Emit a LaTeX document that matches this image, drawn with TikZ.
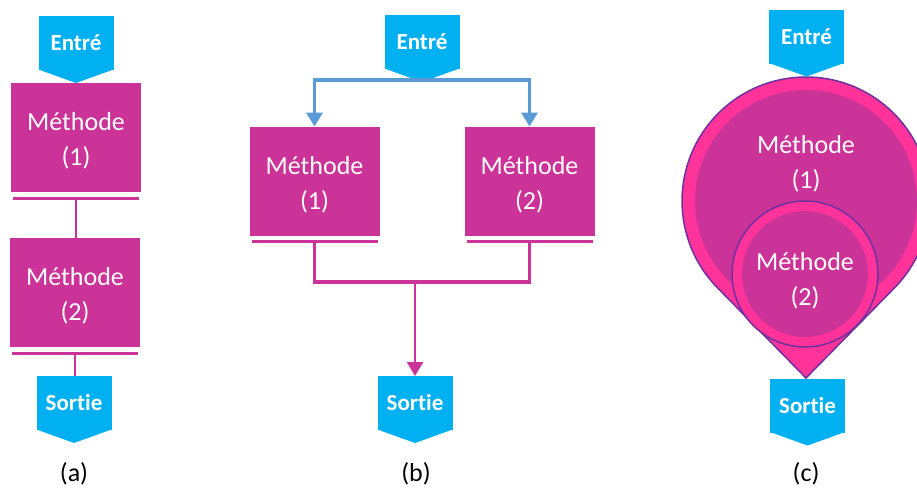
\documentclass[tikz,border=0pt]{standalone}
\usepackage{fontspec}
\setmainfont{Carlito}[Ligatures=NoCommon]
\usetikzlibrary{arrows.meta}

\definecolor{boxpink}{HTML}{CC3399}
\definecolor{boxblue}{HTML}{00B0F0}
\definecolor{linkblue}{HTML}{5B9BD5}
\definecolor{hotpink}{HTML}{FF3399}
\definecolor{rimpurple}{HTML}{7030A0}

\tikzset{
  methode/.style={fill=boxpink, text=white, align=center, inner sep=0pt, outer sep=0pt,
    minimum width=130pt, minimum height=109pt, text height=60pt, font=\fontsize{26}{35}\selectfont},
  methodtext/.style={text=white, align=center, inner sep=0pt, font=\fontsize{26}{35}\selectfont},
  chevron/.style={fill=boxblue, text=white, inner sep=0pt, outer sep=0pt,
    minimum width=75pt, minimum height=54pt, font=\fontsize{23}{28}\bfseries\selectfont},
  caption/.style={anchor=base, inner sep=0pt, font=\fontsize{26}{30}\selectfont},
  pinkline/.style={boxpink, line width=2.5pt},
  pinkarrow/.style={boxpink, line width=2.5pt, -{Triangle[width=16pt,length=14pt]}},
  bluearrow/.style={linkblue, line width=3.5pt, -{Triangle[width=16pt,length=14pt]}},
  rim/.style={rimpurple, line width=1.5pt, fill=hotpink}
}

% point under a chevron node, bar under a method box
\newcommand{\chevtip}[1]{\fill[boxblue] ([yshift=0.5pt]#1.south west) -- ([yshift=-13pt]#1.south)
  -- ([yshift=0.5pt]#1.south east) -- cycle;}
\newcommand{\methbar}[1]{\draw[boxpink, line width=3pt]
  ([xshift=2pt,yshift=-6pt]#1.south west) -- ([xshift=-2pt,yshift=-6pt]#1.south east);}

\begin{document}
\begin{tikzpicture}[x=1pt, y=-1pt]
  \useasboundingbox (0,0) rectangle (917,490);

  % (a)
  \node[chevron] (ea) at (76,43) {Entré};
  \node[methode] (ma1) at (76,137.5) {Méthode\\(1)};
  \node[methode] (ma2) at (75,292.5) {Méthode\\(2)};
  \node[chevron] (sa) at (74,403) {Sortie};
  \node[caption] (la) at (74,481) {(a)};
  \chevtip{ea} \chevtip{sa}
  \methbar{ma1} \methbar{ma2}

  \draw[pinkline] ([yshift=-7pt]ma1.south) -- (ma1.south |- ma2.north);
  \draw[pinkline] ([yshift=-7pt]ma2.south) -- (ma2.south |- sa.north);

  % (b)
  \node[chevron] (eb) at (422,42) {Entré};
  \node[methode] (mb1) at (314.5,181) {Méthode\\(1)};
  \node[methode] (mb2) at (529.5,181) {Méthode\\(2)};
  \node[chevron] (sb) at (415,403) {Sortie};
  \node[caption] (lb) at (416,481) {(b)};
  \chevtip{eb} \chevtip{sb}
  \methbar{mb1} \methbar{mb2}

  \coordinate (ebtip) at ([yshift=-11pt]eb.south);
  \coordinate (jb) at (415,282);
  \draw[bluearrow] (ebtip) -| (mb1);
  \draw[bluearrow] (ebtip) -| (mb2);
  \draw[boxpink, line width=3.5pt] ([yshift=-7pt]mb1.south) |- (jb) -| ([yshift=-7pt]mb2.south);
  \draw[pinkarrow] (jb) -- (sb);

  % (c)
  \draw[rim] (806,378) -- ([shift={(806,201)}]44.5:124)
    arc[start angle=44.5, end angle=-224.5, radius=124] -- cycle;
  \fill[boxpink] (806,201) circle[radius=111];
  \draw[rim] (805,274) circle[radius=73];
  \fill[boxpink] (805,274) circle[radius=63];

  \node[chevron] (ec) at (806.5,36.5) {Entré};
  \node[methodtext] (mc1) at (806,164) {Méthode\\(1)};
  \node[methodtext] (mc2) at (805,281) {Méthode\\(2)};
  \node[chevron] (sc) at (807.5,405.5) {Sortie};
  \node[caption] (lc) at (806,481) {(c)};
  \chevtip{ec} \chevtip{sc}
\end{tikzpicture}
\end{document}
